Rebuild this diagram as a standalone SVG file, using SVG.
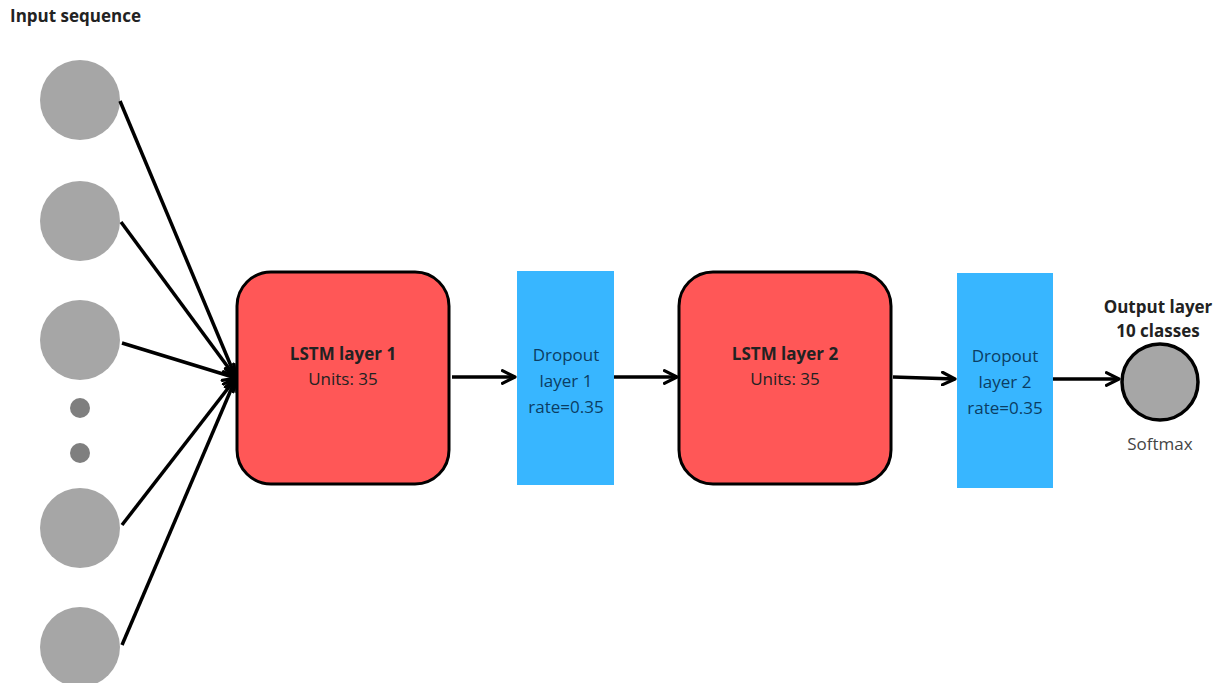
<svg xmlns="http://www.w3.org/2000/svg" width="1227" height="683" viewBox="0 0 1227 683">
<defs>
<marker id="ah" viewBox="0 0 10 10" refX="9" refY="5" markerWidth="4.5" markerHeight="4.5" orient="auto" markerUnits="strokeWidth">
<path d="M1,1 L9,5 L1,9" fill="none" stroke="#000" stroke-width="2" stroke-linecap="round" stroke-linejoin="round"/>
</marker>
<style>
.in{fill:#a6a6a6}
.dot{fill:#7f7f7f}
.lstm{fill:#ff5757;stroke:#000;stroke-width:3}
.drop{fill:#38b6ff}
.c{stroke:#000;stroke-width:3.5;fill:none}
.t{font-family:"Open Sans","Liberation Sans",sans-serif;font-size:17px;text-anchor:middle}
.b{font-weight:bold}
.dk{fill:#222}
.bl{fill:#0b3d63}
</style>
</defs>
<rect width="1227" height="683" fill="#fff"/>
<text x="10" y="22" class="t b dk" style="text-anchor:start;font-size:17px">Input sequence</text>
<g id="input1"><circle cx="80" cy="100" r="40" class="in"/></g>
<g id="input2"><circle cx="80" cy="221" r="40" class="in"/></g>
<g id="input3"><circle cx="80" cy="340" r="40" class="in"/></g>
<g id="ellipsis"><circle cx="80" cy="408" r="10" class="dot"/><circle cx="80" cy="453" r="10" class="dot"/></g>
<g id="input4"><circle cx="80" cy="528" r="40" class="in"/></g>
<g id="input5"><circle cx="80" cy="647" r="40" class="in"/></g>
<g id="connectors">
<line x1="120" y1="101" x2="236" y2="378" class="c" marker-end="url(#ah)"/>
<line x1="121" y1="222" x2="236" y2="378" class="c" marker-end="url(#ah)"/>
<line x1="122" y1="343" x2="236" y2="378" class="c" marker-end="url(#ah)"/>
<line x1="122" y1="525" x2="236" y2="378" class="c" marker-end="url(#ah)"/>
<line x1="122" y1="645" x2="236" y2="378" class="c" marker-end="url(#ah)"/>
<line x1="452" y1="377" x2="515" y2="377" class="c" marker-end="url(#ah)"/>
<line x1="614" y1="377" x2="677" y2="377" class="c" marker-end="url(#ah)"/>
<line x1="893" y1="377" x2="955" y2="379" class="c" marker-end="url(#ah)"/>
<line x1="1053" y1="379" x2="1119" y2="379" class="c" marker-end="url(#ah)"/>
</g>
<g id="lstm1">
<rect x="237" y="272" width="212" height="212" rx="34" class="lstm"/>
<text x="343" y="360" class="t b dk">LSTM layer 1</text>
<text x="343" y="385" class="t dk">Units: 35</text>
</g>
<g id="dropout1">
<rect x="517" y="271" width="97" height="214" class="drop"/>
<text x="566" y="361" class="t bl">Dropout</text>
<text x="566" y="387" class="t bl">layer 1</text>
<text x="566" y="413" class="t bl">rate=0.35</text>
</g>
<g id="lstm2">
<rect x="679" y="272" width="212" height="212" rx="34" class="lstm"/>
<text x="785" y="360" class="t b dk">LSTM layer 2</text>
<text x="785" y="385" class="t dk">Units: 35</text>
</g>
<g id="dropout2">
<rect x="957" y="273" width="96" height="215" class="drop"/>
<text x="1005" y="362" class="t bl">Dropout</text>
<text x="1005" y="388" class="t bl">layer 2</text>
<text x="1005" y="414" class="t bl">rate=0.35</text>
</g>
<g id="output">
<text x="1158" y="313" class="t b dk">Output layer</text>
<text x="1158" y="337" class="t b dk">10 classes</text>
<circle cx="1160" cy="382" r="38" fill="#a6a6a6" stroke="#000" stroke-width="3.5"/>
<text x="1160" y="450" class="t" fill="#444">Softmax</text>
</g>
</svg>
